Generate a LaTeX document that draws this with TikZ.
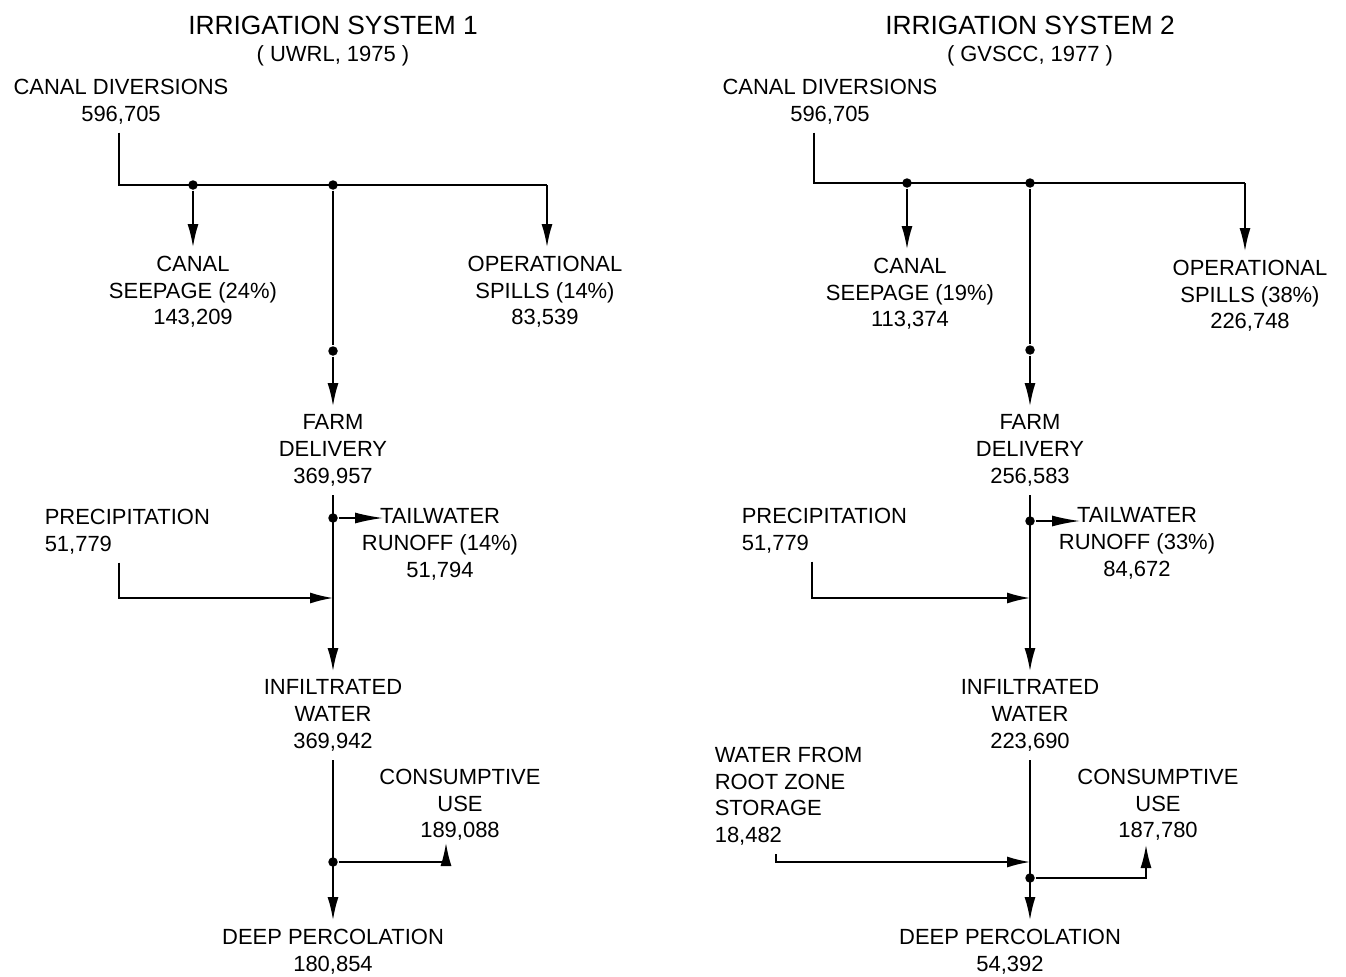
\documentclass[tikz,border=0pt]{standalone}
\usepackage{fontspec}
\setmainfont{Liberation Sans}
\usetikzlibrary{arrows.meta, positioning, calc}

\begin{document}
\begin{tikzpicture}[
        x=0.02cm, y=-0.02cm,
        line width=0.9pt,
        lbl/.style={inner sep=0pt, outer sep=5pt, align=center, anchor=north, font=\fontsize{12.5}{15.3}\selectfont},
        lblleft/.style={lbl, align=left, anchor=north west},
        heading/.style={inner sep=0pt, font=\fontsize{15}{18}\selectfont},
        subhead/.style={inner sep=0pt, anchor=base, font=\fontsize{12.5}{15}\selectfont},
        dot/.style={circle, fill, inner sep=0pt, minimum size=0.19cm},
        flow/.style={-{Latex[length=0.46cm, width=0.22cm]}},
        runoff/.style={-{Latex[length=0.56cm, width=0.22cm]}}
    ]
        \useasboundingbox (0,0) rectangle (1346,977);

        \node[heading] (title1) at (333,25) {IRRIGATION SYSTEM 1};
        \node[subhead] (src1) at (333,61) {( UWRL, 1975 )};
        \node[lbl] (cd1) at (121,70) {CANAL DIVERSIONS\\596,705};
        \node[lbl] (seep1) at (193,247) {CANAL\\SEEPAGE (24\%)\\143,209};
        \node[lbl] (spill1) at (545,247) {OPERATIONAL\\SPILLS (14\%)\\83,539};
        \node[lbl] (farm1) at (333,406) {FARM\\DELIVERY\\369,957};
        \node[lbl] (tail1) at (440,500) {TAILWATER\\RUNOFF (14\%)\\51,794};
        \node[lblleft] (prec1) at (36,500) {PRECIPITATION\\51,779};
        \node[lbl] (infil1) at (333,671) {INFILTRATED\\WATER\\369,942};
        \node[lbl] (cons1) at (460,760) {CONSUMPTIVE\\USE\\189,088};
        \node[lbl] (deep1) at (333,920) {DEEP PERCOLATION\\180,854};

        \node[dot] (d1a) at (193,185) {};
        \node[dot] (d1b) at (333,185) {};
        \node[dot] (d1f) at (333,351) {};
        \node[dot] (d1t) at (333,518) {};
        \node[dot] (d1c) at (333,862) {};
        \coordinate (j1r) at (547,185);
        \coordinate (t1) at (383,518);
        \coordinate (p1) at (333,598);
        \coordinate (u1) at (446,843);

        \draw ($(cd1.south)+(-2,0)$) |- (j1r);
        \draw[flow] (j1r) -- (j1r |- spill1.north);
        \draw[flow] (d1a) -- (d1a |- seep1.north);
        \draw (d1b) -- (d1f);
        \draw[flow] (d1f) -- (farm1);
        \draw[runoff] (d1t) -- (t1);
        \draw[flow] ($(prec1.south west)+(83,0)$) |- (p1);
        \draw[flow] (farm1) -- (infil1);
        \draw[flow] (infil1) -- (deep1);
        \draw[flow] (d1c) -| (u1);

        \node[heading] (title2) at (1030,25) {IRRIGATION SYSTEM 2};
        \node[subhead] (src2) at (1030,61) {( GVSCC, 1977 )};
        \node[lbl] (cd2) at (830,70) {CANAL DIVERSIONS\\596,705};
        \node[lbl] (seep2) at (910,249) {CANAL\\SEEPAGE (19\%)\\113,374};
        \node[lbl] (spill2) at (1250,251) {OPERATIONAL\\SPILLS (38\%)\\226,748};
        \node[lbl] (farm2) at (1030,406) {FARM\\DELIVERY\\256,583};
        \node[lbl] (tail2) at (1137,499) {TAILWATER\\RUNOFF (33\%)\\84,672};
        \node[lblleft] (prec2) at (733,499) {PRECIPITATION\\51,779};
        \node[lbl] (infil2) at (1030,671) {INFILTRATED\\WATER\\223,690};
        \node[lblleft] (root2) at (706,738) {WATER FROM\\ROOT ZONE\\STORAGE\\18,482};
        \node[lbl] (cons2) at (1158,760) {CONSUMPTIVE\\USE\\187,780};
        \node[lbl] (deep2) at (1010,920) {DEEP PERCOLATION\\54,392};

        \node[dot] (d2a) at (907,183) {};
        \node[dot] (d2b) at (1030,183) {};
        \node[dot] (d2f) at (1030,350) {};
        \node[dot] (d2t) at (1030,521) {};
        \node[dot] (d2c) at (1030,878) {};
        \coordinate (j2r) at (1245,183);
        \coordinate (t2) at (1080,521);
        \coordinate (p2) at (1030,598);
        \coordinate (r2) at (1030,862);
        \coordinate (u2) at (1146,845);

        \draw ($(cd2.south)+(-16,0)$) |- (j2r);
        \draw[flow] (j2r) -- (j2r |- spill2.north);
        \draw[flow] (d2a) -- (d2a |- seep2.north);
        \draw (d2b) -- (d2f);
        \draw[flow] (d2f) -- (farm2);
        \draw[runoff] (d2t) -- (t2);
        \draw[flow] ($(prec2.south west)+(79,0)$) |- (p2);
        \draw[flow] (farm2) -- (infil2);
        \draw[flow] ($(root2.south west)+(70,0)$) |- (r2);
        \draw[flow] (infil2) -- (infil2 |- deep2.north);
        \draw[flow] (d2c) -| (u2);
    \end{tikzpicture}
\end{document}
